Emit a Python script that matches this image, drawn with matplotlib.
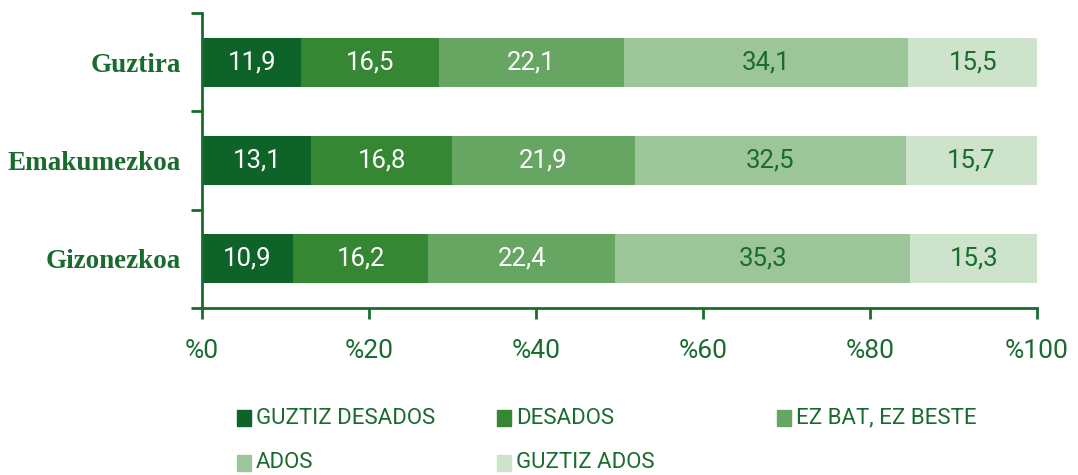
import matplotlib.pyplot as plt
from matplotlib.patches import Rectangle

categories = ["Guztira", "Emakumezkoa", "Gizonezkoa"]
series = ["GUZTIZ DESADOS", "DESADOS", "EZ BAT, EZ BESTE", "ADOS", "GUZTIZ ADOS"]
guztiz_desados = [11.9, 13.1, 10.9]
desados = [16.5, 16.8, 16.2]
ez_bat = [22.1, 21.9, 22.4]
ados = [34.1, 32.5, 35.3]
guztiz_ados = [15.5, 15.7, 15.3]
values = [guztiz_desados, desados, ez_bat, ados, guztiz_ados]
xticks = [0, 20, 40, 60, 80, 100]

colors = ["#0e6428", "#358734", "#66a562", "#9cc59a", "#cde3cc"]
text_colors = ["white", "white", "white", "#1a6b2e", "#1a6b2e"]
green = "#1a6b2e"

W, H = 1078, 475
fig = plt.figure(figsize=(W / 100, H / 100), dpi=100)
ax = fig.add_axes([202 / W, 1 - 308 / H, 835 / W, 295 / H])

ypos = [0, 1, 2]
left = [0, 0, 0]
for vals, col, tc in zip(values, colors, text_colors):
    bars = ax.barh(ypos, vals, left=left, height=0.5, color=col)
    for b, v in zip(bars, vals):
        ax.text(b.get_x() + b.get_width() / 2, b.get_y() + b.get_height() / 2,
                f"{v:.1f}".replace(".", ","), ha="center", va="center",
                color=tc, fontsize=18.5, family="Roboto")
    left = [l + v for l, v in zip(left, vals)]

ax.set_xlim(0, 100)
ax.set_ylim(2.5, -0.5)
ax.set_yticks(ypos)
ax.set_yticklabels(categories, family="Liberation Serif", fontweight="bold",
                   fontsize=19.5, color=green)
ax.set_yticks([-0.5, 0.5, 1.5, 2.5], minor=True)
ax.tick_params(axis="y", which="major", length=0, pad=15)
ax.tick_params(axis="y", which="minor", length=8, width=2, color=green)
ax.set_xticks(xticks)
ax.set_xticklabels([f"%{t}" for t in xticks], family="Roboto", fontsize=19, color=green)
ax.tick_params(axis="x", length=8, width=2, color=green, pad=14)

for s in ["top", "right"]:
    ax.spines[s].set_visible(False)
for s in ["left", "bottom"]:
    ax.spines[s].set_color(green)
    ax.spines[s].set_linewidth(2)

# legend laid out in rows like the reference
leg_x = [237, 497, 777, 237, 497]
leg_y = [418, 418, 418, 463, 463]
for lab, col, x, y in zip(series, colors, leg_x, leg_y):
    fig.patches.append(Rectangle((x / W, 1 - (y + 8) / H), 14 / W, 16 / H,
                                 color=col, transform=fig.transFigure))
    fig.text((x + 19) / W, 1 - y / H, lab, ha="left", va="center",
             family="Roboto", fontsize=16, color=green)

fig.savefig("out.png", dpi=100)
